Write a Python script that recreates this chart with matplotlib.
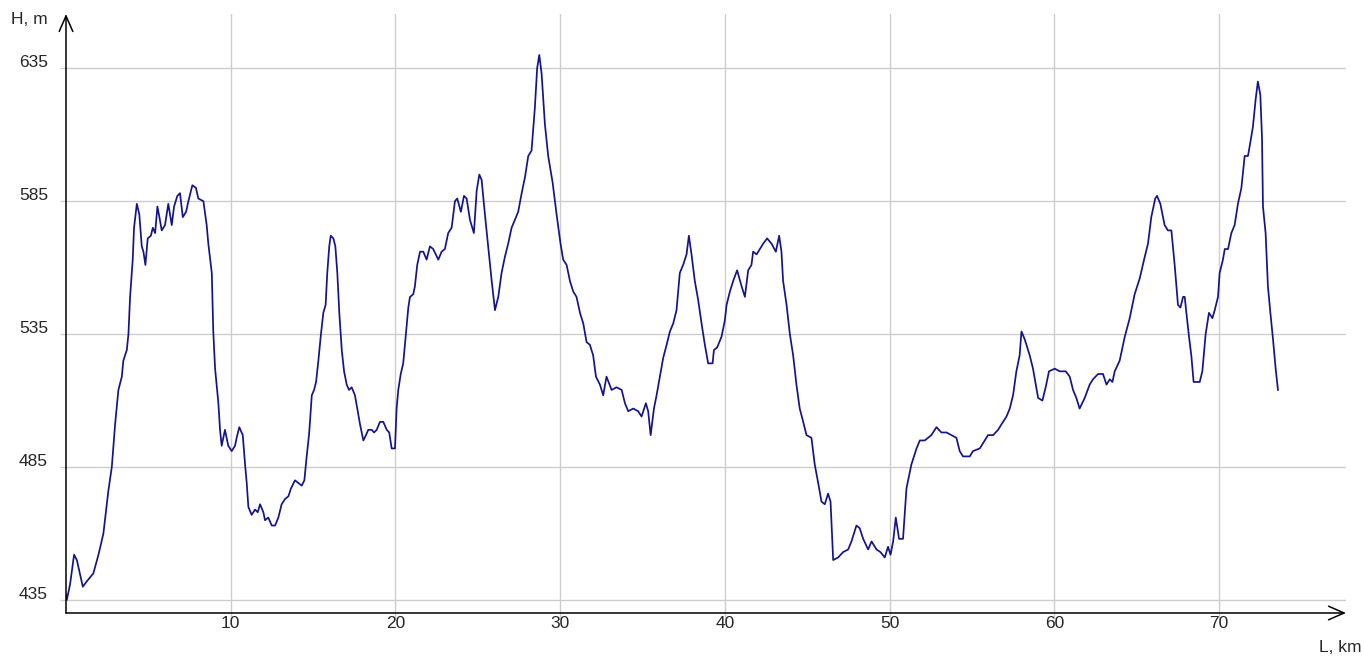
import matplotlib
matplotlib.use("Agg")
import matplotlib.pyplot as plt
from matplotlib.transforms import ScaledTranslation

# Elevation profile
distance_km = [
    0.00, 0.05, 0.25, 0.49, 0.66, 1.02, 1.26, 1.66, 1.97, 2.27, 2.57, 2.78, 2.98, 3.18, 3.39,
    3.48, 3.69, 3.79, 3.89, 4.05, 4.13, 4.30, 4.45, 4.60, 4.70, 4.82, 4.96, 5.15, 5.27, 5.41,
    5.55, 5.67, 5.81, 6.01, 6.21, 6.42, 6.56, 6.76, 6.92, 7.09, 7.29, 7.43, 7.67, 7.89, 8.03,
    8.34, 8.54, 8.64, 8.85, 8.94, 9.05, 9.25, 9.35, 9.45, 9.65, 9.85, 10.06, 10.26, 10.36, 10.52,
    10.73, 10.87, 10.97, 11.07, 11.27, 11.47, 11.64, 11.78, 11.98, 12.08, 12.28, 12.49, 12.69, 12.89, 13.09,
    13.30, 13.50, 13.66, 13.90, 14.10, 14.31, 14.47, 14.61, 14.75, 14.81, 14.92, 15.06, 15.18, 15.32, 15.46,
    15.62, 15.76, 15.86, 15.98, 16.07, 16.23, 16.35, 16.47, 16.59, 16.74, 16.88, 17.04, 17.18, 17.34, 17.54,
    17.68, 17.85, 18.05, 18.21, 18.35, 18.56, 18.70, 18.86, 19.06, 19.26, 19.47, 19.62, 19.77, 19.97, 20.07,
    20.17, 20.32, 20.47, 20.62, 20.78, 20.88, 21.08, 21.18, 21.32, 21.49, 21.69, 21.89, 22.09, 22.29, 22.60,
    22.80, 23.00, 23.20, 23.41, 23.61, 23.75, 23.97, 24.16, 24.32, 24.52, 24.76, 24.93, 25.09, 25.23, 25.43,
    25.63, 25.84, 26.04, 26.24, 26.44, 26.64, 26.84, 27.05, 27.25, 27.45, 27.66, 27.86, 28.06, 28.26, 28.46,
    28.60, 28.73, 28.87, 29.07, 29.27, 29.54, 29.78, 30.02, 30.18, 30.39, 30.59, 30.79, 30.99, 31.20, 31.40,
    31.60, 31.80, 32.00, 32.17, 32.41, 32.61, 32.81, 33.12, 33.42, 33.73, 33.93, 34.13, 34.43, 34.73, 34.94,
    35.20, 35.34, 35.49, 35.69, 35.85, 36.05, 36.25, 36.46, 36.66, 36.86, 37.06, 37.26, 37.46, 37.67, 37.81,
    37.97, 38.17, 38.37, 38.58, 38.78, 38.98, 39.25, 39.33, 39.53, 39.79, 39.99, 40.10, 40.30, 40.50, 40.74,
    41.01, 41.21, 41.41, 41.61, 41.71, 41.92, 42.12, 42.32, 42.56, 42.83, 43.09, 43.29, 43.43, 43.53, 43.74,
    43.94, 44.14, 44.34, 44.54, 44.75, 44.95, 45.25, 45.45, 45.66, 45.86, 46.06, 46.26, 46.41, 46.57, 46.87,
    47.17, 47.48, 47.68, 47.98, 48.18, 48.39, 48.69, 48.90, 49.20, 49.44, 49.70, 49.90, 50.05, 50.21, 50.37,
    50.57, 50.81, 51.02, 51.32, 51.63, 51.83, 52.13, 52.33, 52.53, 52.84, 53.14, 53.45, 53.75, 54.05, 54.25,
    54.45, 54.86, 55.06, 55.47, 55.77, 55.97, 56.28, 56.58, 56.78, 57.09, 57.29, 57.49, 57.69, 57.89, 58.00,
    58.20, 58.50, 58.70, 59.01, 59.27, 59.47, 59.67, 60.02, 60.32, 60.69, 60.93, 61.13, 61.33, 61.53, 61.84,
    62.14, 62.34, 62.65, 62.95, 63.16, 63.36, 63.52, 63.66, 63.96, 64.27, 64.57, 64.87, 65.18, 65.48, 65.68,
    65.88, 66.12, 66.23, 66.43, 66.69, 66.89, 67.10, 67.30, 67.50, 67.65, 67.81, 67.91, 68.01, 68.17, 68.31,
    68.45, 68.82, 68.98, 69.18, 69.38, 69.59, 69.73, 69.93, 70.03, 70.23, 70.34, 70.54, 70.74, 70.94, 71.14,
    71.35, 71.55, 71.75, 71.89, 72.05, 72.21, 72.35, 72.50, 72.60, 72.66, 72.82, 72.96, 73.11, 73.27, 73.43,
    73.57,
]
height_m = [
    437, 435, 441, 452, 450, 440, 442, 445, 452, 460, 476, 485, 501, 514, 519,
    525, 529, 535, 549, 563, 575, 584, 580, 568, 566, 561, 571, 572, 575, 573,
    583, 579, 574, 576, 584, 576, 583, 587, 588, 579, 581, 585, 591, 590, 586,
    585, 576, 569, 558, 536, 522, 509, 499, 493, 499, 493, 491, 493, 496, 500,
    497, 486, 479, 470, 467, 469, 468, 471, 468, 465, 466, 463, 463, 466, 471,
    473, 474, 477, 480, 479, 478, 480, 489, 497, 502, 512, 514, 517, 525, 534,
    543, 546, 558, 568, 572, 571, 568, 558, 543, 529, 521, 516, 514, 515, 512,
    507, 501, 495, 497, 499, 499, 498, 499, 502, 502, 499, 498, 492, 492, 507,
    514, 520, 524, 534, 545, 549, 550, 553, 561, 566, 566, 563, 568, 567, 563,
    566, 567, 573, 575, 585, 586, 581, 587, 586, 578, 573, 589, 595, 593, 580,
    568, 555, 544, 549, 558, 564, 569, 575, 578, 581, 588, 594, 602, 604, 620,
    635, 640, 633, 614, 602, 592, 580, 569, 563, 561, 555, 551, 549, 543, 539,
    532, 531, 527, 519, 516, 512, 519, 514, 515, 514, 509, 506, 507, 506, 504,
    509, 506, 497, 507, 512, 519, 526, 531, 536, 539, 544, 558, 561, 565, 572,
    565, 555, 548, 539, 531, 524, 524, 529, 530, 534, 540, 546, 551, 555, 559,
    553, 549, 559, 561, 566, 565, 567, 569, 571, 569, 566, 572, 566, 555, 546,
    535, 527, 516, 507, 502, 497, 496, 486, 479, 472, 471, 475, 472, 450, 451,
    453, 454, 457, 463, 462, 458, 454, 457, 454, 453, 451, 455, 452, 457, 466,
    458, 458, 477, 486, 492, 495, 495, 496, 497, 500, 498, 498, 497, 496, 491,
    489, 489, 491, 492, 495, 497, 497, 499, 501, 504, 507, 512, 521, 527, 536,
    533, 527, 522, 511, 510, 515, 521, 522, 521, 521, 519, 514, 511, 507, 511,
    516, 518, 520, 520, 516, 518, 517, 521, 525, 534, 541, 550, 556, 564, 569,
    579, 586, 587, 584, 576, 574, 574, 561, 546, 545, 549, 549, 543, 534, 527,
    517, 517, 521, 535, 543, 541, 544, 549, 558, 563, 567, 567, 573, 576, 584,
    590, 602, 602, 607, 613, 623, 630, 625, 609, 583, 573, 553, 543, 533, 522,
    514,
]

x_ticks = [10, 20, 30, 40, 50, 60, 70]
y_ticks = [435, 485, 535, 585, 635]

W, H = 1364, 665
fig = plt.figure(figsize=(W / 100, H / 100), dpi=100)
fig.patch.set_facecolor("white")

# axes box in pixels: y axis at x=66, x axis at y=613, arrows end at x=1346 / y=14
left, right, bottom, top = 66, 1346, 613, 14
ax = fig.add_axes([left / W, (H - bottom) / H, (right - left) / W, (bottom - top) / H])

ax.plot(distance_km, height_m, color="#14148a", lw=1.25, zorder=3)

ax.set_xlim(0, 77.7)
ax.set_ylim(430.1, 655.4)

grid_col = "#cdcdcd"
txt_col = "#262626"
fsize = 12.5
ax.set_xticks(x_ticks)
ax.set_yticks(y_ticks)
ax.set_xticklabels([str(t) for t in x_ticks])
ax.set_yticklabels([str(t) for t in y_ticks])
ax.grid(True, color=grid_col, lw=1.0, zorder=0)
ax.tick_params(axis="x", length=4, width=1.0, color=grid_col, pad=-2,
               labelsize=fsize, labelcolor=txt_col)
ax.tick_params(axis="y", length=4, width=1.0, color=grid_col, pad=9,
               labelsize=fsize, labelcolor=txt_col)
for lab in ax.get_xticklabels() + ax.get_yticklabels():
    lab.set_family("Liberation Sans")
# y labels sit a bit above their grid lines
for lab in ax.get_yticklabels():
    lab.set_transform(lab.get_transform() + ScaledTranslation(0, 7 / 100, fig.dpi_scale_trans))

for spine in ax.spines.values():
    spine.set_visible(False)

# axis lines with open arrow heads
arrow = dict(arrowstyle="->,head_length=0.8,head_width=0.35", lw=1.1, color="black",
             shrinkA=0, shrinkB=0, mutation_scale=14)
ax.annotate("", xy=(1, 0), xytext=(0, 0), xycoords="axes fraction",
            textcoords="axes fraction", arrowprops=arrow, zorder=5)
ax.annotate("", xy=(0, 1), xytext=(0, 0), xycoords="axes fraction",
            textcoords="axes fraction", arrowprops=arrow, zorder=5)

fig.text(48 / W, 1 - 20 / H, "H, m", ha="right", va="center", fontsize=fsize,
         family="Liberation Sans", color=txt_col)
fig.text(1340 / W, 1 - 648 / H, "L, km", ha="center", va="center", fontsize=fsize,
         family="Liberation Sans", color=txt_col)

fig.savefig("out.png", dpi=100)
